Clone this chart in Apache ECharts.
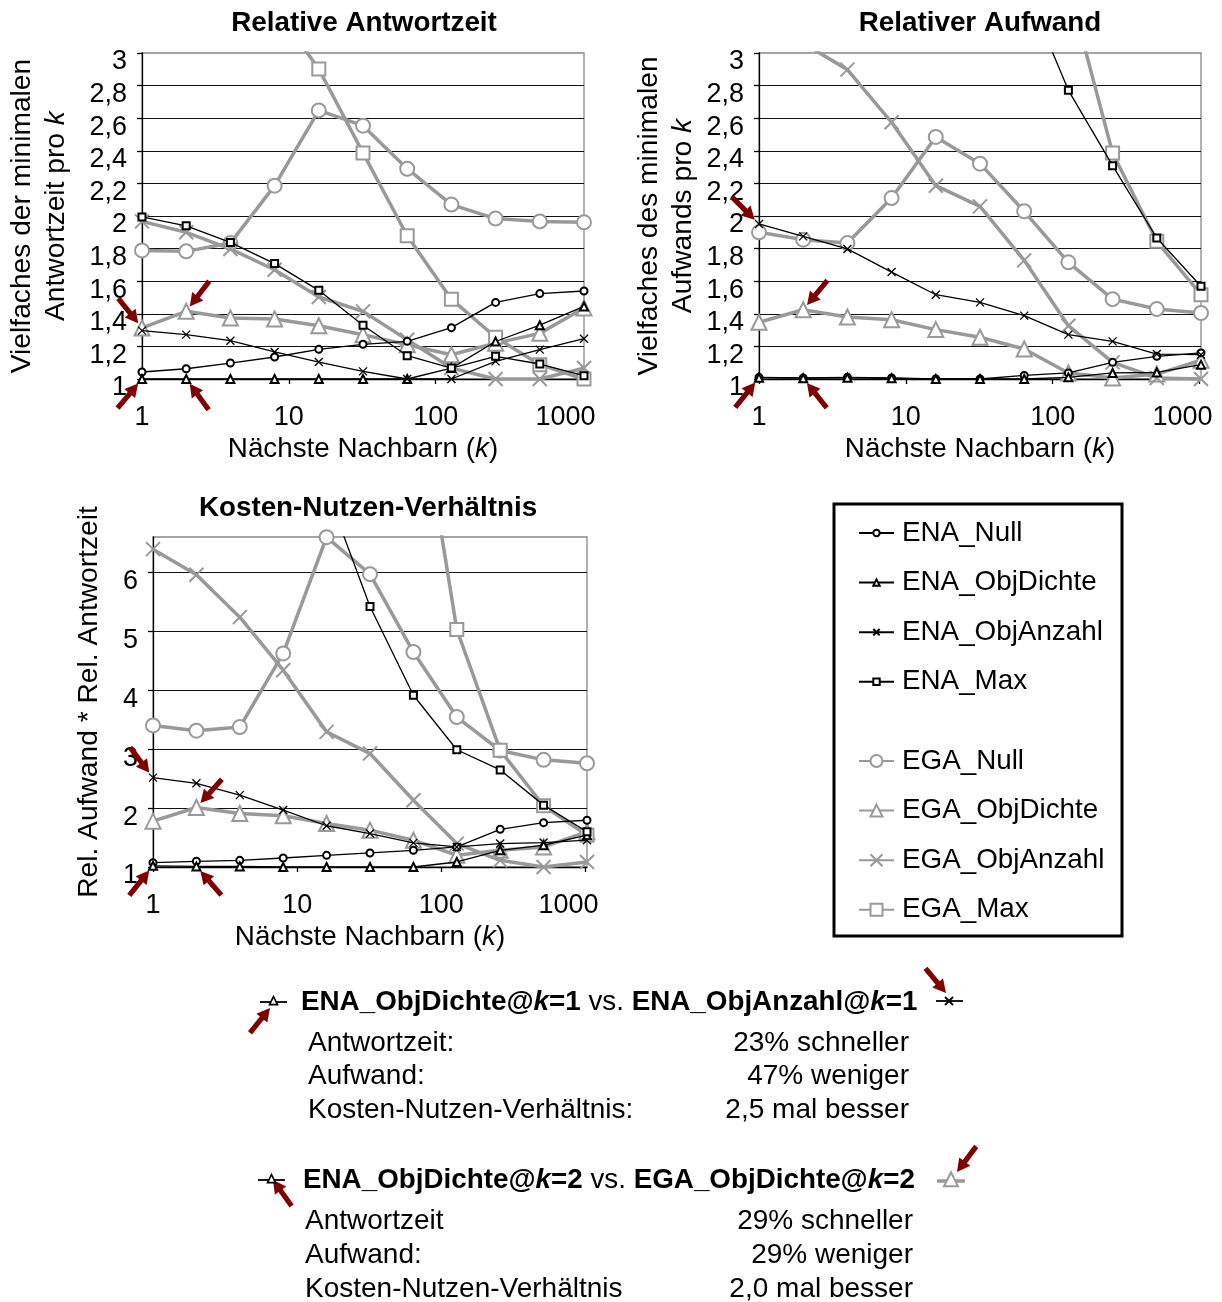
<!DOCTYPE html>
<html>
<head>
<meta charset="utf-8">
<script src="https://cdn.jsdelivr.net/npm/echarts@6/dist/echarts.min.js"></script>
<style>
  html, body { margin: 0; padding: 0; background: #fff; }
  #chart { width: 1222px; height: 1302px; }
</style>
</head>
<body>
<div id="chart"></div>
<script>
const FONT = '"Liberation Sans", Arial, sans-serif'
const TXT = 27.8
const kValues = [1, 2, 4, 8, 16, 32, 64, 128, 256, 512, 1024]
const xTickLabels = [1, 10, 100, 1000]

// Relative Antwortzeit
const zeitEnaNull = [1.043, 1.063, 1.098, 1.135, 1.182, 1.213, 1.231, 1.315, 1.47, 1.524, 1.54]
const zeitEnaObjDichte = [1, 1, 1, 1, 1, 1, 1, 1.067, 1.23, 1.33, 1.445]
const zeitEnaObjAnzahl = [1.297, 1.272, 1.235, 1.166, 1.104, 1.047, 1.0, 1.0, 1.108, 1.18, 1.247]
const zeitEnaMax = [1.994, 1.94, 1.838, 1.708, 1.544, 1.33, 1.143, 1.067, 1.139, 1.092, 1.02]
const zeitEgaNull = [1.789, 1.783, 1.834, 2.186, 2.648, 2.554, 2.29, 2.07, 1.984, 1.967, 1.961]
const zeitEgaObjDichte = [1.313, 1.415, 1.374, 1.368, 1.327, 1.272, 1.21, 1.149, 1.22, 1.28, 1.435]
const zeitEgaObjAnzahl = [1.967, 1.9, 1.798, 1.67, 1.503, 1.415, 1.241, 1.067, 1.0, 1.0, 1.067]
const zeitEgaMax = [4.6, 4.2, 3.8, 3.28, 2.902, 2.387, 1.879, 1.49, 1.256, 1.088, 1.0]

// Relativer Aufwand
const aufwandEnaNull = [1.01, 1.006, 1.01, 1.006, 1.0, 1.0, 1.022, 1.037, 1.102, 1.139, 1.16]
const aufwandEnaObjDichte = [1.008, 1.005, 1.008, 1.004, 1.0, 1.0, 1.0, 1.01, 1.037, 1.04, 1.088]
const aufwandEnaObjAnzahl = [1.951, 1.875, 1.798, 1.656, 1.517, 1.47, 1.389, 1.272, 1.231, 1.153, 1.149]
const aufwandEnaMax = [12, 10.5, 8.5, 6.5, 4.8, 4.07, 3.42, 2.771, 2.309, 1.865, 1.569]
const aufwandEgaNull = [1.9, 1.855, 1.834, 2.11, 2.485, 2.321, 2.029, 1.716, 1.49, 1.429, 1.405]
const aufwandEgaObjDichte = [1.348, 1.425, 1.38, 1.364, 1.303, 1.256, 1.184, 1.037, 1.006, 1.03, 1.115]
const aufwandEgaObjAnzahl = [3.22, 3.06, 2.898, 2.575, 2.186, 2.059, 1.728, 1.327, 1.102, 1.006, 1.0]
const aufwandEgaMax = [12, 11, 10, 9, 7.5, 6.3, 5.1, 3.41, 2.387, 1.845, 1.517]

// Kosten-Nutzen-Verhaeltnis
const kostenEnaNull = [1.074, 1.097, 1.113, 1.153, 1.198, 1.238, 1.283, 1.34, 1.64, 1.753, 1.793]
const kostenEnaObjDichte = [1.02, 1.01, 1.01, 1.0, 1.0, 1.0, 1.0, 1.085, 1.283, 1.37, 1.54]
const kostenEnaObjAnzahl = [2.517, 2.42, 2.22, 1.966, 1.7, 1.568, 1.41, 1.34, 1.398, 1.415, 1.455]
const kostenEnaMax = [24, 20, 15.6, 11.1, 7.4, 5.42, 3.915, 2.99, 2.648, 2.05, 1.597]
const kostenEgaNull = [3.403, 3.313, 3.375, 4.625, 6.597, 5.97, 4.648, 3.545, 2.977, 2.818, 2.761]
const kostenEgaObjDichte = [1.778, 2.01, 1.909, 1.869, 1.739, 1.625, 1.455, 1.199, 1.284, 1.34, 1.597]
const kostenEgaObjAnzahl = [6.394, 5.96, 5.24, 4.34, 3.293, 2.925, 2.133, 1.397, 1.113, 1.0, 1.085]
const kostenEgaMax = [50, 45, 38, 30, 22, 15, 9.6, 5.03, 2.98, 2.04, 1.54]

const enaNames = ['ENA_Null', 'ENA_ObjDichte', 'ENA_ObjAnzahl', 'ENA_Max']
const egaNames = ['EGA_Null', 'EGA_ObjDichte', 'EGA_ObjAnzahl', 'EGA_Max']
const chartTitles = ['Relative Antwortzeit', 'Relativer Aufwand', 'Kosten-Nutzen-Verhältnis']

const vergleich1Labels = ['Antwortzeit:', 'Aufwand:', 'Kosten-Nutzen-Verhältnis:']
const vergleich1Values = ['23% schneller', '47% weniger', '2,5 mal besser']
const vergleich2Labels = ['Antwortzeit', 'Aufwand:', 'Kosten-Nutzen-Verhältnis']
const vergleich2Values = ['29% schneller', '29% weniger', '2,0 mal besser']

const chartData = [
  [zeitEnaNull, zeitEnaObjDichte, zeitEnaObjAnzahl, zeitEnaMax, zeitEgaNull, zeitEgaObjDichte, zeitEgaObjAnzahl, zeitEgaMax],
  [aufwandEnaNull, aufwandEnaObjDichte, aufwandEnaObjAnzahl, aufwandEnaMax, aufwandEgaNull, aufwandEgaObjDichte, aufwandEgaObjAnzahl, aufwandEgaMax],
  [kostenEnaNull, kostenEnaObjDichte, kostenEnaObjAnzahl, kostenEnaMax, kostenEgaNull, kostenEgaObjDichte, kostenEgaObjAnzahl, kostenEgaMax]
]

const CROSS = 'path://M0,0L10,10M0,10L10,0'
const GRAY = '#999'
const DARKRED = '#7f0000'

// stil je serie: symbol, groesse
const enaSymbols = [['emptyCircle', 7], ['emptyTriangle', 8], [CROSS, 8], ['emptyRect', 7]]
const egaSymbols = [['emptyCircle', 14], ['emptyTriangle', 15], [CROSS, 14], ['emptyRect', 13]]

const grids = [
  {left: 142, top: 53, width: 442, height: 326},
  {left: 759, top: 53, width: 442, height: 326},
  {left: 153, top: 537, width: 434, height: 330}
]

function fmtComma(v) {
  return String(Math.round(v * 10) / 10).replace('.', ',')
}

const myChart = echarts.init(document.getElementById('chart'))

const series = []
chartData.forEach((arrs, ci) => {
  arrs.forEach((arr, si) => {
    const isEna = si < 4
    const sym = isEna ? enaSymbols[si] : egaSymbols[si - 4]
    const color = isEna ? '#000' : GRAY
    series.push({
      type: 'line',
      name: isEna ? enaNames[si] : egaNames[si - 4],
      xAxisIndex: ci,
      yAxisIndex: ci,
      data: kValues.map((k, i) => [k, arr[i]]),
      symbol: sym[0],
      symbolSize: sym[1],
      showAllSymbol: true,
      clip: true,
      z: isEna ? 4 : 3,
      lineStyle: {color: color, width: isEna ? 1.3 : 3.5},
      itemStyle: {color: color, borderColor: color, borderWidth: isEna ? 1.3 : 2},
      emphasis: {disabled: true},
      animation: false
    })
  })
})

const axisFont = {fontSize: 27, fontFamily: FONT, color: '#000'}

const xAxes = grids.map((g, i) => ({
  gridIndex: i,
  type: 'log',
  logBase: 10,
  min: 1,
  max: 1024,
  axisLine: {show: true, lineStyle: {color: '#000', width: 1.3}},
  axisTick: {show: true, length: 5, lineStyle: {color: '#000', width: 1.3}},
  splitLine: {show: false},
  axisLabel: Object.assign({
    margin: 25,
    showMaxLabel: false,
    formatter: v => {
      const r = Math.round(v)
      if (!(xTickLabels.includes(r) && Math.abs(v - r) < 1e-6)) return ''
      // die 1000 steht bei Excel etwas nach links versetzt
      return r === 1000 ? '{r|1000}' : String(r)
    },
    rich: {r: {fontSize: 27, fontFamily: FONT, color: '#000', padding: [0, 34, 0, 0]}}
  }, axisFont),
  name: '{a|Nächste Nachbarn (}{b|k}{a|)}',
  nameLocation: 'middle',
  nameGap: 56,
  nameTextStyle: {
    rich: {
      a: {fontSize: TXT, fontFamily: FONT, color: '#000'},
      b: {fontSize: TXT, fontFamily: FONT, color: '#000', fontStyle: 'italic'}
    }
  }
}))

const yNames = [
  '{a|Vielfaches der minimalen}\n{a|Antwortzeit pro }{b|k}',
  '{a|Vielfaches des minimalen}\n{a|Aufwands pro }{b|k}',
  '{a|Rel. Aufwand * Rel. Antwortzeit}'
]
const yGaps = [69, 59, 47]

const yAxes = grids.map((g, i) => ({
  gridIndex: i,
  type: 'value',
  min: 1,
  max: i < 2 ? 3 : 6.6,
  interval: i < 2 ? 0.2 : 1,
  axisLine: {show: true, lineStyle: {color: '#000', width: 1.3}},
  axisTick: {show: true, length: 5, lineStyle: {color: '#000', width: 1.3}},
  splitLine: {show: true, showMinLine: false, showMaxLine: false, lineStyle: {color: '#111', width: 1}},
  axisLabel: Object.assign({
    margin: 15,
    verticalAlign: 'top',
    lineHeight: 18,
    showMaxLabel: i < 2,
    formatter: v => (i === 2 && v > 6.01) ? '' : fmtComma(v)
  }, axisFont),
  name: yNames[i],
  nameLocation: 'middle',
  nameRotate: 90,
  nameGap: yGaps[i],
  nameTextStyle: {
    rich: {
      a: {fontSize: 28.2, fontFamily: FONT, color: '#000', lineHeight: 34},
      b: {fontSize: 28.2, fontFamily: FONT, color: '#000', fontStyle: 'italic', lineHeight: 34}
    }
  }
}))

const titleCenters = [[364, 9], [980, 9], [368, 494]]

const legendBase = {
  orient: 'vertical',
  left: 858,
  padding: 0,
  itemWidth: 35,
  itemGap: 19.6,
  selectedMode: false,
  textStyle: {fontSize: TXT, fontFamily: FONT, color: '#000', lineHeight: 30, padding: [0, 0, 0, 3]}
}

myChart.setOption({
  backgroundColor: '#fff',
  animation: false,
  title: chartTitles.map((t, i) => ({
    text: t,
    left: titleCenters[i][0],
    top: titleCenters[i][1],
    textAlign: 'center',
    padding: 0,
    textStyle: {fontSize: TXT, fontWeight: 'bold', fontFamily: FONT, color: '#000'}
  })),
  grid: grids.map(g => Object.assign({
    show: true,
    borderColor: '#888',
    borderWidth: 1.3,
    backgroundColor: 'transparent',
    containLabel: false,
    outerBoundsMode: 'none'
  }, g)),
  legend: [
    Object.assign({}, legendBase, {top: 518, itemHeight: 8, data: enaNames}),
    Object.assign({}, legendBase, {top: 746, itemHeight: 15, data: egaNames})
  ],
  xAxis: xAxes,
  yAxis: yAxes,
  series: series
})

// pfeile
function arrowPoly(tx, ty, dx, dy) {
  const len = Math.hypot(dx, dy)
  const ux = dx / len, uy = dy / len
  const L = 32, hw = 7, hl = 13, sw = 2.6
  const px = -uy, py = ux
  const bx = tx - ux * hl, by = ty - uy * hl
  const ex = tx - ux * L, ey = ty - uy * L
  return {
    type: 'polygon',
    z: 100,
    shape: {points: [[tx, ty], [bx + px * hw, by + py * hw], [bx + px * sw, by + py * sw],
      [ex + px * sw, ey + py * sw], [ex - px * sw, ey - py * sw], [bx - px * sw, by - py * sw], [bx - px * hw, by - py * hw]]},
    style: {fill: DARKRED}
  }
}

const dataArrows = [
  [0, 1, zeitEgaObjDichte[0], 20, 25], [0, 2, zeitEgaObjDichte[1], -19, 25],
  [0, 1, zeitEnaObjDichte[0], 21, -25], [0, 2, zeitEnaObjDichte[1], -19, -26],
  [1, 1, aufwandEnaObjAnzahl[0], 19, 19], [1, 2, aufwandEgaObjDichte[1], -19, 23],
  [1, 1, aufwandEnaObjDichte[0], 20, -25], [1, 2, aufwandEnaObjDichte[1], -19, -24],
  [2, 1, kostenEnaObjAnzahl[0], 19, 25], [2, 2, kostenEgaObjDichte[1], -19, 21],
  [2, 1, kostenEnaObjDichte[0], 20, -25], [2, 2, kostenEnaObjDichte[1], -20, -23]
]

const elements = []
dataArrows.forEach(a => {
  const p = myChart.convertToPixel({gridIndex: a[0]}, [a[1], a[2]])
  const len = Math.hypot(a[3], a[4])
  elements.push(arrowPoly(p[0] - a[3] / len * 6, p[1] - a[4] / len * 6, a[3], a[4]))
})

// pfeile an den textbloecken
elements.push(arrowPoly(270, 1008, 20, -25))
elements.push(arrowPoly(273, 1180, -20, -28))
elements.push(arrowPoly(946, 993, 20, 24))
elements.push(arrowPoly(957, 1172, -18, 24))

// legendenrahmen
elements.push({type: 'rect', shape: {x: 834, y: 504, width: 288, height: 432}, style: {fill: 'none', stroke: '#000', lineWidth: 3}})

// kleine symbole
function lineIcon(x1, y1, x2, y2, color, w) {
  return {type: 'line', z: 101, shape: {x1: x1, y1: y1, x2: x2, y2: y2}, style: {stroke: color, lineWidth: w}}
}
function triIcon(cx, cy, s, color, w) {
  return {type: 'polygon', z: 102, shape: {points: [[cx, cy - s * 0.55], [cx + s * 0.5, cy + s * 0.45], [cx - s * 0.5, cy + s * 0.45]]},
    style: {fill: '#fff', stroke: color, lineWidth: w}}
}
elements.push(lineIcon(260, 1002, 287, 1002, '#000', 1.8), triIcon(273.5, 1001, 8, '#000', 1.6))
elements.push(lineIcon(936, 1001, 963, 1001, '#000', 1.8),
  lineIcon(945, 997, 953, 1005, '#000', 1.8), lineIcon(945, 1005, 953, 997, '#000', 1.8))
elements.push(lineIcon(258, 1180, 285, 1180, '#000', 1.8), triIcon(271.5, 1179, 8, '#000', 1.6))
elements.push(lineIcon(937, 1181, 965, 1181, GRAY, 3.5), triIcon(951, 1180, 14, GRAY, 2))

// vergleichstexte
const HEAD = 27.8
const richBold = {
  b: {fontSize: HEAD, fontFamily: FONT, fontWeight: 'bold', fill: '#000'},
  bi: {fontSize: HEAD, fontFamily: FONT, fontWeight: 'bold', fontStyle: 'italic', fill: '#000'},
  n: {fontSize: HEAD, fontFamily: FONT, fill: '#000'}
}
elements.push({type: 'text', style: {x: 301, y: 1002, verticalAlign: 'middle', rich: richBold,
  text: '{b|ENA_ObjDichte@}{bi|k}{b|=1}{n| vs. }{b|ENA_ObjAnzahl@}{bi|k}{b|=1}'}})
elements.push({type: 'text', style: {x: 303, y: 1180, verticalAlign: 'middle', rich: richBold,
  text: '{b|ENA_ObjDichte@}{bi|k}{b|=2}{n| vs. }{b|EGA_ObjDichte@}{bi|k}{b|=2}'}})

const ROW = 28
const rowY1 = [1043, 1076, 1110]
const rowY2 = [1221, 1255, 1289]
vergleich1Labels.forEach((t, i) => {
  elements.push({type: 'text', style: {x: 308, y: rowY1[i], text: t, verticalAlign: 'middle', fontSize: ROW, fontFamily: FONT, fill: '#000'}})
  elements.push({type: 'text', style: {x: 909, y: rowY1[i], text: vergleich1Values[i], align: 'right', verticalAlign: 'middle', fontSize: ROW, fontFamily: FONT, fill: '#000'}})
})
vergleich2Labels.forEach((t, i) => {
  elements.push({type: 'text', style: {x: 305, y: rowY2[i], text: t, verticalAlign: 'middle', fontSize: ROW, fontFamily: FONT, fill: '#000'}})
  elements.push({type: 'text', style: {x: 913, y: rowY2[i], text: vergleich2Values[i], align: 'right', verticalAlign: 'middle', fontSize: ROW, fontFamily: FONT, fill: '#000'}})
})

myChart.setOption({graphic: [{elements: elements}]})
</script>
</body>
</html>
